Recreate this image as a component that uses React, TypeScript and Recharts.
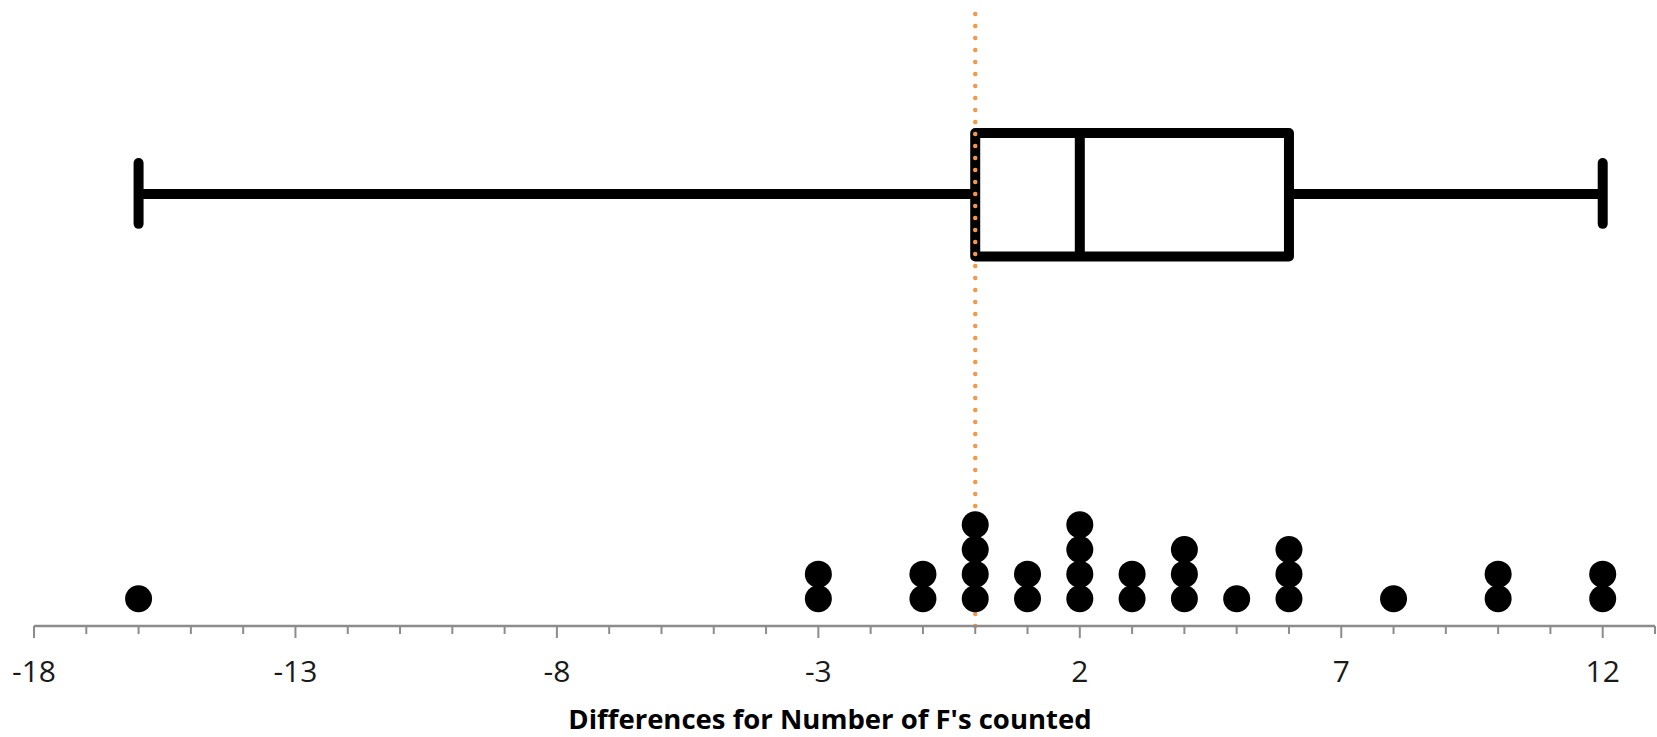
import React from "react";
import {
  ComposedChart,
  Scatter,
  XAxis,
  YAxis,
  ReferenceArea,
  ReferenceLine,
} from "recharts";

// dot plot: difference value and how many people had it
const diffValues = [-16, -3, -1, 0, 1, 2, 3, 4, 5, 6, 8, 10, 12];
const diffCounts = [1, 2, 2, 4, 2, 4, 2, 3, 1, 3, 1, 2, 2];

// five number summary: min, Q1, median, Q3, max
const boxStats = [-16, 0, 2, 6, 12];

// x axis ticks (every unit, labelled every 5)
const axisTicks = [
  -18, -17, -16, -15, -14, -13, -12, -11, -10, -9, -8, -7, -6, -5, -4, -3, -2,
  -1, 0, 1, 2, 3, 4, 5, 6, 7, 8, 9, 10, 11, 12, 13,
];
const tickLabels = ["-18", "-13", "-8", "-3", "2", "7", "12"];

const refValue = 0;

// stacked dots for the scatter
const dots: { x: number; y: number }[] = [];
diffValues.forEach((v, i) => {
  for (let k = 1; k <= diffCounts[i]; k++) dots.push({ x: v, y: k });
});

const BOX_TOP = 19.86;
const BOX_BOTTOM = 14.86;
const WHISKER_Y = 17.39;
const CAP_TOP = 18.64;
const CAP_BOTTOM = 16.18;

const FONT = "'Open Sans', sans-serif";

const renderTick = (props: any) => {
  const { x, y, payload } = props;
  const label = String(payload.value);
  const major = tickLabels.includes(label);
  return (
    <g>
      <line
        x1={x}
        x2={x}
        y1={y}
        y2={y + (major ? 12 : 8)}
        stroke="#8c8c8c"
        strokeWidth={2}
      />
      {major && (
        <text
          x={x}
          y={y + 56}
          textAnchor="middle"
          fontFamily={FONT}
          fontSize={30}
          fill="#1a1a1a"
        >
          {label}
        </text>
      )}
    </g>
  );
};

const AxisTitle = (props: any) => {
  const { viewBox } = props;
  return (
    <text
      x={830}
      y={viewBox.y + 103}
      textAnchor="middle"
      fontFamily={FONT}
      fontWeight="bold"
      fontSize={27.5}
      fill="#000"
    >
      Differences for Number of F's counted
    </text>
  );
};

const renderDot = (props: any) => {
  const { cx, cy } = props;
  return <circle cx={cx} cy={cy} r={13.5} fill="#000" />;
};

export default function App() {
  const [min, q1, median, q3, max] = boxStats;
  return (
    <div
      style={{
        position: "absolute",
        left: 0,
        top: 0,
        width: 1657,
        height: 737,
        background: "#fff",
      }}
    >
      <ComposedChart
        width={1657}
        height={737}
        margin={{ top: 6, right: 2, bottom: 0, left: 34 }}
        data={dots}
      >
        <XAxis
          dataKey="x"
          type="number"
          domain={[-18, 13]}
          ticks={axisTicks}
          interval={0}
          allowDataOverflow
          height={111}
          tickSize={0}
          tickMargin={0}
          tickLine={false}
          axisLine={{ stroke: "#8c8c8c", strokeWidth: 2.5 }}
          tick={renderTick}
          label={<AxisTitle />}
        />
        <YAxis
          dataKey="y"
          type="number"
          domain={[-0.1, 25]}
          allowDataOverflow
          hide
        />
        <ReferenceLine
          segment={[
            { x: min, y: WHISKER_Y },
            { x: q1, y: WHISKER_Y },
          ]}
          stroke="#000"
          strokeWidth={10}
        />
        <ReferenceLine
          segment={[
            { x: q3, y: WHISKER_Y },
            { x: max, y: WHISKER_Y },
          ]}
          stroke="#000"
          strokeWidth={10}
        />
        <ReferenceLine
          segment={[
            { x: min, y: CAP_BOTTOM },
            { x: min, y: CAP_TOP },
          ]}
          stroke="#000"
          strokeWidth={10}
          strokeLinecap="round"
        />
        <ReferenceLine
          segment={[
            { x: max, y: CAP_BOTTOM },
            { x: max, y: CAP_TOP },
          ]}
          stroke="#000"
          strokeWidth={10}
          strokeLinecap="round"
        />
        <ReferenceArea
          x1={q1}
          x2={q3}
          y1={BOX_BOTTOM}
          y2={BOX_TOP}
          stroke="#000"
          strokeWidth={10}
          strokeLinejoin="round"
          fill="#fff"
          fillOpacity={1}
        />
        <ReferenceLine
          segment={[
            { x: median, y: BOX_BOTTOM },
            { x: median, y: BOX_TOP },
          ]}
          stroke="#000"
          strokeWidth={10}
        />
        <ReferenceLine
          x={refValue}
          stroke="#F79646"
          strokeWidth={4.5}
          strokeDasharray="0 12"
          strokeLinecap="round"
        />
        <Scatter
          dataKey="y"
          fill="#000"
          shape={renderDot}
          isAnimationActive={false}
        />
      </ComposedChart>
    </div>
  );
}
